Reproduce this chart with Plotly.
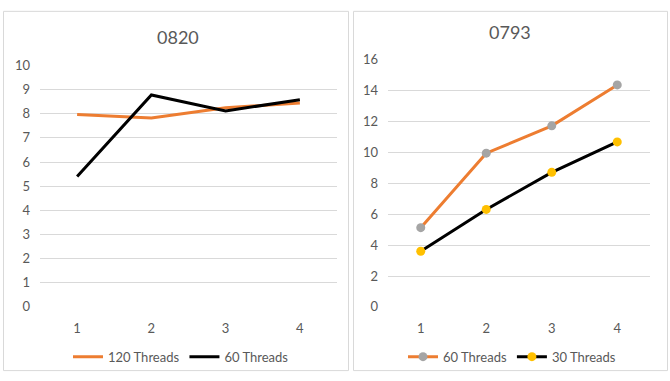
import plotly.graph_objects as go

categories = [1, 2, 3, 4]
left_title = "0820"
left_120 = [7.97, 7.82, 8.25, 8.45]
left_60 = [5.40, 8.78, 8.12, 8.58]
right_title = "0793"
right_60 = [5.13, 9.95, 11.72, 14.37]
right_30 = [3.60, 6.31, 8.71, 10.68]
left_yticks = list(range(0, 11, 1))
right_yticks = list(range(0, 17, 2))

W, H = 670, 381
FONT = "Lato"
GRID = "#d9d9d9"
TXT = "#595959"
ORANGE = "#ed7d31"
BLACK = "#000000"
GRAY = "#a5a5a5"
YELLOW = "#ffc000"

def px(x):
    return x / W

def py(y):
    return 1 - y / H

fig = go.Figure()
fig.add_trace(go.Scatter(x=categories, y=left_120, mode="lines", name="120 Threads",
                         line=dict(color=ORANGE, width=3), xaxis="x", yaxis="y", legend="legend"))
fig.add_trace(go.Scatter(x=categories, y=left_60, mode="lines", name="60 Threads",
                         line=dict(color=BLACK, width=3), xaxis="x", yaxis="y", legend="legend"))
fig.add_trace(go.Scatter(x=categories, y=right_60, mode="lines+markers", name="60 Threads",
                         line=dict(color=ORANGE, width=3),
                         marker=dict(color=GRAY, size=9),
                         xaxis="x2", yaxis="y2", legend="legend2"))
fig.add_trace(go.Scatter(x=categories, y=right_30, mode="lines+markers", name="30 Threads",
                         line=dict(color=BLACK, width=3),
                         marker=dict(color=YELLOW, size=9),
                         xaxis="x2", yaxis="y2", legend="legend2"))

xcommon = dict(range=[0.5, 4.5], tickvals=categories, ticktext=[str(c) for c in categories],
               showgrid=False, zeroline=False, showline=False, ticks="",
               tickfont=dict(family=FONT, size=13, color=TXT), ticklabelstandoff=12)
ycommon = dict(showgrid=True, gridcolor=GRID, gridwidth=1, zeroline=False, showline=False,
               ticks="", tickfont=dict(family=FONT, size=13, color=TXT), ticklabelstandoff=9)

fig.update_layout(
    width=W, height=H,
    margin=dict(l=0, r=0, t=0, b=0),
    paper_bgcolor="white", plot_bgcolor="white",
    font=dict(family=FONT, color=TXT),
    xaxis=dict(domain=[px(40), px(337)], anchor="y", **xcommon),
    yaxis=dict(domain=[py(312), py(60)], anchor="x", range=[0, 10], tickvals=left_yticks, **ycommon),
    xaxis2=dict(domain=[px(388), px(650)], anchor="y2", **xcommon),
    yaxis2=dict(domain=[py(312), py(54)], anchor="x2", range=[0, 16], tickvals=right_yticks, **ycommon),
    legend=dict(orientation="h", x=px(181), y=py(364), xanchor="center", yanchor="middle",
                font=dict(family=FONT, size=13, color=TXT), itemwidth=30, bgcolor="rgba(0,0,0,0)"),
    legend2=dict(orientation="h", x=px(512), y=py(364), xanchor="center", yanchor="middle",
                 font=dict(family=FONT, size=13, color=TXT), itemwidth=30, bgcolor="rgba(0,0,0,0)"),
    annotations=[
        dict(text=left_title, x=px(178), y=py(30), xref="paper", yref="paper", showarrow=False,
             font=dict(family=FONT, size=18, color=TXT), xanchor="center", yanchor="middle"),
        dict(text=right_title, x=px(510), y=py(25), xref="paper", yref="paper", showarrow=False,
             font=dict(family=FONT, size=18, color=TXT), xanchor="center", yanchor="middle"),
    ],
    shapes=[
        dict(type="rect", xref="paper", yref="paper", x0=px(3.5), x1=px(348.5), y0=py(378.5), y1=py(3.5),
             line=dict(color=GRID, width=1), fillcolor="rgba(0,0,0,0)"),
        dict(type="rect", xref="paper", yref="paper", x0=px(353.5), x1=px(667.5), y0=py(378.5), y1=py(3.5),
             line=dict(color=GRID, width=1), fillcolor="rgba(0,0,0,0)"),
    ],
)

fig.write_html("out.html", config={"displayModeBar": False},
               post_script="document.body.style.margin='0';document.body.style.overflow='hidden';")
